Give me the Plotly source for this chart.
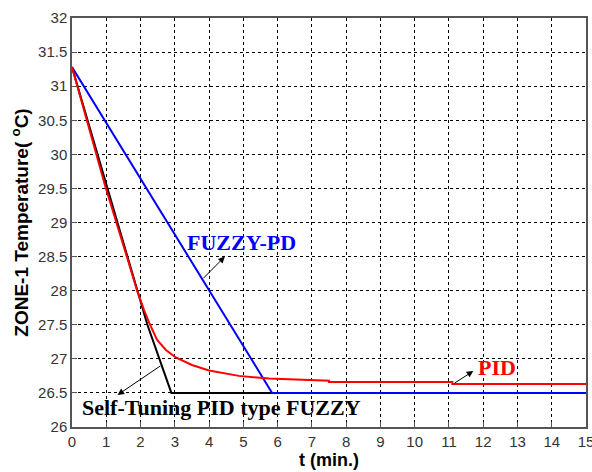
import plotly.graph_objects as go

# Data
t_fuzzy_pd = [0, 5.84, 15]
T_fuzzy_pd = [31.28, 26.5, 26.5]

t_selftune = [0, 2.2, 2.9, 15]
T_selftune = [31.28, 27.5, 26.5, 26.5]

t_pid = [0, 0.69, 0.96, 1.6, 1.9, 2.1, 2.25, 2.48, 2.74, 3.03, 3.5, 4.0, 4.87,
         5.75, 6.6, 7.5, 7.5, 11.1, 11.1, 15]
T_pid = [31.28, 30.05, 29.55, 28.5, 28.0, 27.72, 27.53, 27.28, 27.13, 27.02, 26.91,
         26.83, 26.75, 26.71, 26.69, 26.68, 26.66, 26.66, 26.63, 26.63]

x_ticks = list(range(0, 16))
y_ticks = [26, 26.5, 27, 27.5, 28, 28.5, 29, 29.5, 30, 30.5, 31, 31.5, 32]

fig = go.Figure()
fig.add_trace(go.Scatter(x=t_selftune, y=T_selftune, mode="lines",
                         line=dict(color="black", width=2), name="Self-Tuning PID type FUZZY"))
fig.add_trace(go.Scatter(x=t_fuzzy_pd, y=T_fuzzy_pd, mode="lines",
                         line=dict(color="#0000ff", width=2), name="FUZZY-PD"))
fig.add_trace(go.Scatter(x=t_pid, y=T_pid, mode="lines",
                         line=dict(color="#ff0000", width=2), name="PID"))

serif = "Liberation Serif, Times New Roman, serif"

annotations = [
    # labels
    dict(x=4.96, y=28.71, text="<b>FUZZY-PD</b>", showarrow=False,
         font=dict(family=serif, size=22, color="#0000ff")),
    dict(x=12.4, y=26.87, text="<b>PID</b>", showarrow=False,
         font=dict(family=serif, size=22, color="#ff0000")),
    dict(x=4.36, y=26.28, text="<b>Self-Tuning PID type FUZZY</b>", showarrow=False,
         font=dict(family=serif, size=22, color="black")),
    # arrows
    dict(x=4.46, y=28.50, ax=3.79, ay=28.16, xref="x", yref="y", axref="x", ayref="y",
         text="", showarrow=True, arrowhead=2, arrowsize=1.3, arrowwidth=1, arrowcolor="black"),
    dict(x=11.71, y=26.82, ax=11.12, ay=26.63, xref="x", yref="y", axref="x", ayref="y",
         text="", showarrow=True, arrowhead=2, arrowsize=1.3, arrowwidth=1, arrowcolor="black"),
    dict(x=1.33, y=26.47, ax=2.62, ay=26.91, xref="x", yref="y", axref="x", ayref="y",
         text="", showarrow=True, arrowhead=2, arrowsize=1.3, arrowwidth=1, arrowcolor="black"),
]

axis_common = dict(
    showline=True, linecolor="#555555", linewidth=1.5, mirror=True,
    ticks="inside", ticklen=5, tickcolor="#555555",
    showgrid=True, gridcolor="black", gridwidth=1, griddash="3px,3px",
    zeroline=False, ticklabeloverflow="allow", automargin=False,
    tickfont=dict(family="Liberation Sans, Arial, sans-serif", size=15, color="#333333"),
)

fig.update_layout(
    width=592, height=472,
    margin=dict(l=72, r=6, t=18, b=45),
    paper_bgcolor="white", plot_bgcolor="white",
    showlegend=False,
    annotations=annotations,
    xaxis=dict(range=[0, 15], tickvals=x_ticks,
               title=dict(text="<b>t (min.)</b>", standoff=3,
                          font=dict(family="Liberation Sans, Arial, sans-serif", size=18, color="black")),
               **axis_common),
    yaxis=dict(range=[26, 32], tickvals=y_ticks,
               title=dict(text="<b>ZONE-1 Temperature( <sup>o</sup>C)</b>", standoff=4,
                          font=dict(family="Liberation Sans, Arial, sans-serif", size=19, color="black")),
               **axis_common),
)

fig.write_html("out.html")
